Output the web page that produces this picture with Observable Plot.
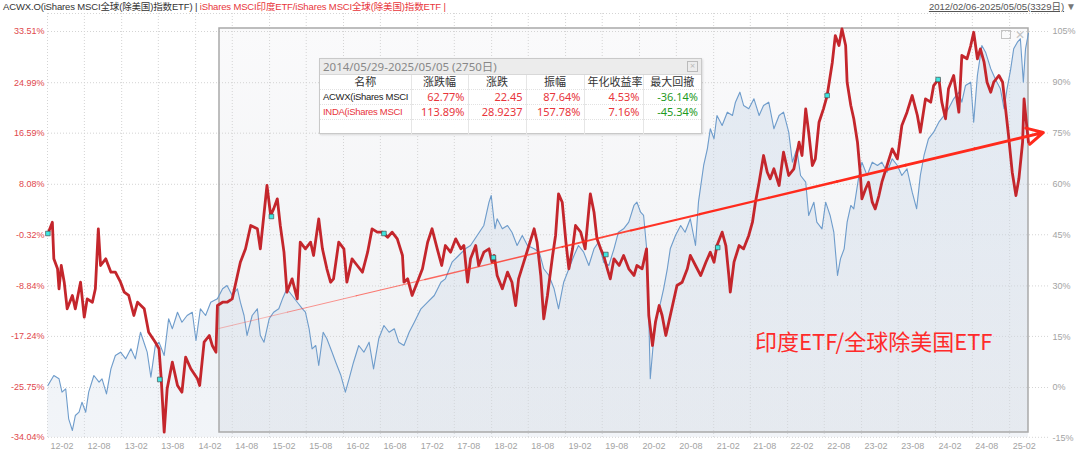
<!DOCTYPE html>
<html><head><meta charset="utf-8">
<script src="https://cdn.jsdelivr.net/npm/d3@7"></script>
<script src="https://cdn.jsdelivr.net/npm/@observablehq/plot@0.6"></script>
<style>
body{margin:0;background:#fff;font-family:"Liberation Sans","Noto Sans CJK SC",sans-serif;}
#wrap{position:relative;width:1080px;height:458px;overflow:hidden;background:#fff;}
#chart{position:absolute;left:0;top:0;}
#title{position:absolute;left:3px;top:0px;font-size:9.5px;letter-spacing:-0.15px;line-height:14px;color:#333;white-space:nowrap;}
#title .red{color:#e8353b;}
#range{position:absolute;right:4px;top:0px;font-size:9.5px;line-height:14px;color:#555;white-space:nowrap;}
#range u{text-decoration:underline;}
#range .tri{color:#777;font-size:10px;margin-left:2px;}
#tbl{position:absolute;left:319px;top:58px;width:383px;height:76px;background:rgba(255,255,255,0.96);border:1px solid #c9c9c9;box-shadow:1px 1px 2px rgba(0,0,0,0.12);font-size:11px;color:#333;box-sizing:border-box;font-family:"Noto Sans","Noto Sans CJK SC",sans-serif;}
#tbl .th{height:15px;line-height:15px;background:#ececec;border-bottom:1px solid #d8d8d8;color:#888;padding-left:3px;position:relative;font-size:11.5px;}
#tbl .th .x{position:absolute;right:3px;top:2px;width:9px;height:9px;border:1px solid #bbb;color:#bbb;font-size:9px;line-height:8px;text-align:center;}
#tbl table{border-collapse:collapse;table-layout:fixed;width:381px;}
#tbl td{height:14px;line-height:14px;padding:0 3px;border-right:1px solid #e6e6e6;border-bottom:1px dotted #e2e2e2;white-space:nowrap;overflow:hidden;text-align:right;}
#tbl td:last-child{border-right:none;}
#tbl tr.hd td{text-align:center;color:#333;}
#tbl td.name{text-align:left;padding:0 0 0 3px;font-family:"Liberation Sans",sans-serif;font-size:9.5px;letter-spacing:-0.3px;}
#icons{position:absolute;left:1001px;top:30px;color:#c4c4c4;font-size:12px;line-height:10px;}
#icons .sq{display:inline-block;width:8px;height:7px;border:1px solid #c4c4c4;margin-right:4px;}
</style>
</head><body>
<div id="wrap">
  <div id="chart"></div>
  <div id="title"></div>
  <div id="range"></div>
  <div id="tbl"></div>
  <div id="icons"><span class="sq"></span>✕</div>
</div>
<script>
// ---------------- data ----------------
const titleBlack = "ACWX.O(iShares MSCI全球(除美国)指数ETF) | ";
const titleRed = "iShares MSCI印度ETF/iShares MSCI全球(除美国)指数ETF |";
const rangeText = "2012/02/06-2025/05/05(3329日)";

// time given as decimal years
const fullStart = 2012.098, fullEnd = 2025.340;
const selStart = 2014.408, selEnd = 2025.340;   // 2014/05/29 - 2025/05/05

// left axis: INDA/ACWX ratio change (%)
const leftTicks = [33.51, 24.99, 16.59, 8.08, -0.32, -8.84, -17.24, -25.75, -34.04];
// right axis: ACWX change (%)
const rightTicks = [105, 90, 75, 60, 45, 30, 15, 0, -15];
const xTickLabels = ["12-02","12-08","13-02","13-08","14-02","14-08","15-02","15-08","16-02","16-08","17-02","17-08","18-02","18-08","19-02","19-08","20-02","20-08","21-02","21-08","22-02","22-08","23-02","23-08","24-02","24-08","25-02"];

// INDA / ACWX ratio (left axis, %)
const ratioSeries = [
[2012.09,-0.16],[2012.15,1.77],[2012.17,-4.33],[2012.22,-5.99],[2012.24,-9.32],[2012.27,-5.44],[2012.31,-8.22],[2012.35,-12.65],[2012.42,-10.43],[2012.46,-12.65],[2012.53,-8.22],[2012.58,-14.04],[2012.62,-10.99],[2012.69,-11.55],[2012.73,-9.32],[2012.77,0.67],[2012.80,-5.44],[2012.87,-4.33],[2012.94,-6.55],[2013.00,-6.55],[2013.07,-8.22],[2013.12,-9.88],[2013.18,-10.43],[2013.25,-13.76],[2013.30,-11.55],[2013.39,-12.65],[2013.45,-16.54],[2013.54,-18.21],[2013.59,-19.30],[2013.62,-24.30],[2013.66,-33.18],[2013.70,-25.96],[2013.77,-21.53],[2013.84,-25.41],[2013.90,-26.53],[2013.95,-20.70],[2014.02,-22.63],[2014.11,-24.30],[2014.14,-25.41],[2014.20,-18.21],[2014.27,-17.09],[2014.31,-18.75],[2014.36,-19.87],[2014.38,-12.10],[2014.45,-11.55],[2014.51,-11.55],[2014.58,-10.99],[2014.65,-7.10],[2014.69,-4.89],[2014.76,-2.66],[2014.83,1.22],[2014.92,0.67],[2014.96,-2.66],[2015.05,7.88],[2015.10,2.88],[2015.14,3.99],[2015.19,5.66],[2015.23,1.22],[2015.28,-3.22],[2015.32,-9.88],[2015.39,-7.66],[2015.46,-10.99],[2015.50,-1.56],[2015.57,-2.66],[2015.64,-1.56],[2015.68,-3.77],[2015.75,2.33],[2015.80,-2.66],[2015.86,-5.99],[2015.91,-8.22],[2015.95,-7.66],[2016.02,-1.56],[2016.09,-2.66],[2016.13,-8.22],[2016.20,-4.33],[2016.27,-5.44],[2016.34,-6.55],[2016.41,-3.22],[2016.47,0.67],[2016.54,0.11],
[2016.61,0.11],[2016.68,-0.73],[2016.74,0.11],[2016.81,-1.00],[2016.88,-3.77],[2016.90,-8.22],[2016.95,-7.66],[2017.01,-10.43],[2017.08,-8.22],[2017.15,-5.99],[2017.22,-1.56],[2017.28,0.67],[2017.35,-2.66],[2017.41,-5.44],[2017.46,-2.11],[2017.53,-3.22],[2017.60,-1.00],[2017.67,-2.66],[2017.71,-2.11],[2017.76,-8.22],[2017.80,-4.33],[2017.87,-2.11],[2017.91,-5.44],[2017.98,-3.22],[2018.05,-2.66],[2018.09,-4.89],[2018.12,-3.77],[2018.16,-7.10],[2018.23,-9.32],[2018.30,-6.55],[2018.36,-8.22],[2018.41,-12.10],[2018.45,-7.66],[2018.52,-4.89],[2018.59,-2.11],[2018.66,0.67],[2018.70,-1.56],[2018.75,-7.10],[2018.79,-14.32],[2018.84,-10.43],[2018.91,-3.77],[2018.95,-0.44],[2018.99,6.50],[2019.04,5.10],[2019.09,-1.56],[2019.13,-5.99],[2019.18,-2.66],[2019.22,1.22],[2019.29,0.11],[2019.35,-2.66],[2019.42,6.50],[2019.47,3.43],[2019.51,-1.00],[2019.56,-2.66],[2019.60,-3.77],[2019.65,-5.99],[2019.69,-7.66],[2019.74,-4.33],[2019.81,-5.44],[2019.87,-3.77],[2019.94,-5.99],[2020.01,-7.10],[2020.05,-5.44],[2020.12,-5.99],[2020.18,-2.66],[2020.21,-13.76],[2020.26,-18.75],[2020.30,-14.87],[2020.35,-12.10],[2020.39,-13.76],[2020.44,-17.09],[2020.48,-14.87],[2020.53,-12.10],[2020.59,-8.77],[2020.66,-8.22],[2020.73,-5.99],[2020.77,-3.77],[2020.84,-5.44],[2020.91,-7.10],[2020.98,-4.89],
[2021.04,-3.22],[2021.09,-4.89],[2021.13,-2.11],[2021.20,0.11],[2021.25,-2.11],[2021.29,-7.10],[2021.31,-9.88],[2021.36,-4.89],[2021.43,-2.11],[2021.49,-2.66],[2021.56,-0.44],[2021.61,1.77],[2021.65,5.10],[2021.70,8.43],[2021.76,12.87],[2021.81,10.09],[2021.85,8.99],[2021.90,10.66],[2021.97,7.88],[2022.03,13.42],[2022.10,9.54],[2022.17,10.66],[2022.24,15.08],[2022.28,12.87],[2022.33,20.64],[2022.37,16.75],[2022.42,11.21],[2022.46,12.32],[2022.51,18.41],[2022.57,20.64],[2022.62,22.86],[2022.69,28.40],[2022.73,32.84],[2022.78,31.18],[2022.82,33.96],[2022.87,31.18],[2022.89,25.07],[2022.94,21.19],[2022.98,18.98],[2023.03,15.08],[2023.07,9.54],[2023.09,5.66],[2023.14,7.33],[2023.18,8.43],[2023.23,5.10],[2023.27,3.99],[2023.32,6.21],[2023.36,8.43],[2023.43,11.21],[2023.50,13.98],[2023.57,12.32],[2023.63,17.86],[2023.70,20.08],[2023.77,22.86],[2023.84,19.53],[2023.88,16.75],[2023.95,22.31],[2024.02,21.75],[2024.06,24.52],[2024.13,25.64],[2024.17,21.75],[2024.22,18.98],[2024.26,23.97],[2024.33,26.19],[2024.40,20.08],[2024.44,29.52],[2024.51,28.97],[2024.56,31.18],[2024.60,33.39],[2024.65,28.97],[2024.69,30.63],[2024.74,28.40],[2024.78,25.07],[2024.83,23.41],[2024.87,25.07],[2024.94,26.19],[2024.99,25.07],[2025.03,20.64],[2025.07,16.20],[2025.12,10.09],[2025.17,6.21],[2025.21,8.99],[2025.26,15.08],[2025.28,22.31],[2025.32,17.31],[2025.34,15.08]
];

// ACWX (right axis, %)
const acwxSeries = [
[2012.09,0.59],[2012.17,3.54],[2012.24,2.57],[2012.28,-1.38],[2012.33,-0.39],[2012.37,-9.23],[2012.42,-12.68],[2012.46,-8.26],[2012.51,-7.28],[2012.55,-4.33],[2012.60,-7.28],[2012.64,-1.38],[2012.71,3.54],[2012.78,1.57],[2012.82,2.57],[2012.88,-1.87],[2012.94,5.51],[2013.00,9.44],[2013.07,10.42],[2013.14,8.45],[2013.21,11.41],[2013.27,8.45],[2013.34,16.31],[2013.40,12.39],[2013.43,10.42],[2013.48,3.05],[2013.54,12.39],[2013.59,13.37],[2013.66,9.44],[2013.72,20.27],[2013.77,17.32],[2013.84,22.21],[2013.90,19.26],[2013.97,21.24],[2014.04,22.21],[2014.09,13.86],[2014.15,23.22],[2014.22,21.24],[2014.29,25.16],[2014.38,26.16],[2014.45,29.12],[2014.51,30.09],[2014.58,27.14],[2014.65,29.12],[2014.69,25.16],[2014.74,21.24],[2014.78,15.34],[2014.85,21.24],[2014.92,23.22],[2014.96,15.34],[2015.01,13.37],[2015.08,20.27],[2015.14,22.21],[2015.21,23.22],[2015.26,26.16],[2015.32,29.12],[2015.39,27.14],[2015.46,25.16],[2015.53,23.22],[2015.57,22.21],[2015.62,17.32],[2015.66,11.41],[2015.71,12.39],[2015.75,6.49],[2015.81,16.31],[2015.86,14.37],[2015.93,10.42],[2015.98,7.46],[2016.05,3.54],[2016.11,-1.38],[2016.16,2.57],[2016.22,7.46],[2016.29,12.39],[2016.36,10.42],[2016.43,13.37],[2016.49,5.51],[2016.56,14.37],
[2016.63,18.29],[2016.70,16.31],[2016.77,17.32],[2016.83,13.37],[2016.90,12.39],[2016.97,16.31],[2017.04,19.26],[2017.13,23.22],[2017.22,25.16],[2017.31,27.14],[2017.40,31.06],[2017.46,32.06],[2017.55,36.96],[2017.64,38.94],[2017.73,40.91],[2017.80,41.89],[2017.89,44.84],[2017.98,47.79],[2018.05,54.66],[2018.08,56.64],[2018.13,46.81],[2018.16,49.76],[2018.23,46.81],[2018.30,47.79],[2018.36,45.81],[2018.43,41.89],[2018.50,44.84],[2018.57,41.89],[2018.66,40.91],[2018.73,39.91],[2018.79,35.02],[2018.86,33.04],[2018.93,29.12],[2018.99,23.22],[2019.06,31.06],[2019.13,35.02],[2019.20,38.94],[2019.26,41.89],[2019.33,39.91],[2019.40,35.99],[2019.47,40.91],[2019.53,42.86],[2019.60,36.96],[2019.67,35.99],[2019.74,40.91],[2019.80,45.81],[2019.87,46.81],[2019.94,48.76],[2020.01,53.69],[2020.05,54.66],[2020.10,51.71],[2020.14,50.74],[2020.19,38.94],[2020.23,2.57],[2020.28,15.34],[2020.32,21.24],[2020.37,25.16],[2020.41,29.12],[2020.46,35.02],[2020.50,40.91],[2020.57,44.84],[2020.64,47.79],[2020.70,45.81],[2020.77,49.76],[2020.84,41.89],[2020.88,54.66],[2020.95,65.49],[2021.00,70.41],[2021.04,76.31],
[2021.09,73.36],[2021.13,80.24],[2021.20,77.29],[2021.27,81.21],[2021.34,80.24],[2021.38,84.16],[2021.44,87.11],[2021.49,83.19],[2021.56,82.21],[2021.63,85.16],[2021.70,80.24],[2021.76,83.19],[2021.83,84.16],[2021.90,76.31],[2021.97,80.24],[2022.03,81.21],[2022.10,75.31],[2022.15,66.46],[2022.21,70.41],[2022.26,62.54],[2022.33,60.56],[2022.37,50.74],[2022.44,54.66],[2022.48,48.76],[2022.55,46.81],[2022.60,54.66],[2022.66,50.74],[2022.71,45.81],[2022.76,33.04],[2022.80,37.96],[2022.85,40.91],[2022.89,48.76],[2022.94,53.69],[2022.98,52.71],[2023.05,62.54],[2023.09,66.46],[2023.16,62.54],[2023.23,66.46],[2023.30,65.49],[2023.36,66.46],[2023.43,63.51],[2023.50,67.46],[2023.57,65.49],[2023.63,62.54],[2023.70,64.51],[2023.77,57.61],[2023.83,52.71],[2023.88,62.54],[2023.93,68.44],[2023.99,73.36],[2024.06,75.31],[2024.13,78.26],[2024.20,80.24],[2024.26,82.21],[2024.33,85.16],[2024.40,87.11],[2024.44,84.16],[2024.49,89.09],[2024.56,90.06],[2024.60,78.26],[2024.65,92.04],[2024.71,100.88],[2024.76,98.91],[2024.83,94.01],[2024.89,91.06],[2024.96,88.11],[2025.01,82.21],[2025.05,88.11],[2025.10,94.01],[2025.14,99.91],[2025.19,101.86],[2025.23,102.86],[2025.27,90.06],[2025.30,99.91],[2025.34,104.5]
];

// small markers on the ratio line
const markerSeries = [[2012.09,-0.11],[2013.60,-24.41],[2015.11,2.72],[2016.63,-0.11],[2018.11,-4.11],[2019.63,-3.61],[2021.14,-2.44],[2022.62,22.86],[2024.12,25.52]];

// trend arrow (left-axis units)
const arrowFrom = [2014.40, -15.92];
const arrowTo = [2025.54, 16.70];
const noteText = "印度ETF/全球除美国ETF";
const notePos = [2023.25, -18.25];

// statistics table
const statRange = "2014/05/29-2025/05/05 (2750日)";
const statHeaders = ["名称","涨跌幅","涨跌","振幅","年化收益率","最大回撤"];
const statNames = ["ACWX(iShares MSCI", "INDA(iShares MSCI"];
const acwxStats = ["62.77%","22.45","87.64%","4.53%","-36.14%"];
const indaStats = ["113.89%","28.9237","157.78%","7.16%","-45.34%"];

// ---------------- helpers ----------------
const yr = t => { const y = Math.floor(t); const s = Date.UTC(y,0,1), e = Date.UTC(y+1,0,1); return new Date(s + (t - y) * (e - s)); };
// right axis -> left axis units (105% ↔ 33.51%, 0% ↔ -25.75%)
const rk = (33.51 - (-25.75)) / 105;
const r2l = r => -25.75 + r * rk;
const l2r = l => (l + 25.75) / rk;
const yDomain = [-34.07, 36.51];

const ratio = ratioSeries.map(([t, v]) => ({date: yr(t), v}));
const acwx = acwxSeries.map(([t, r]) => ({date: yr(t), v: r2l(r)}));
const markers = markerSeries.map(([t, v]) => ({date: yr(t), v}));
const xTicks = xTickLabels.map(s => new Date(Date.UTC(2000 + +s.slice(0,2), +s.slice(3) - 1, 1)));

// tapered arrow pieces
const N = 12;
const pieces = d3.range(N).map(i => {
  const a = i / N, b = (i + 1) / N;
  const ia = d3.interpolateNumber(arrowFrom[0], arrowTo[0]);
  const ib = d3.interpolateNumber(arrowFrom[1], arrowTo[1]);
  return {x1: yr(ia(a)), y1: ib(a), x2: yr(ia(b)), y2: ib(b), w: 0.5 + 2.6 * b, o: 0.35 + 0.65 * Math.min(1, b * 1.6)};
});
const shaft = pieces.slice(0, N - 1);
const head = pieces.slice(N - 1);

const FONT = '"Liberation Sans","Noto Sans CJK SC",sans-serif';

const svg = Plot.plot({
  width: 1080, height: 458,
  marginTop: 13, marginBottom: 21, marginLeft: 48, marginRight: 52,
  style: {fontFamily: FONT, fontSize: "9px", background: "transparent", overflow: "visible"},
  x: {type: "utc", domain: [yr(fullStart), yr(fullEnd)]},
  y: {domain: yDomain},
  marks: [
    Plot.rect([{a: yr(selStart), b: yr(selEnd)}], {x1: "a", x2: "b", insetTop: 15, insetBottom: 5, fill: "url(#boxFill)"}),
    Plot.ruleX(xTicks, {stroke: "#d4d4d4", strokeDasharray: "1,2"}),
    Plot.ruleY(leftTicks, {stroke: "#d4d4d4", strokeDasharray: "1,2", insetRight: -22}),
    Plot.ruleY([yDomain[1]], {stroke: "#d4d4d4", strokeDasharray: "1,2", insetRight: -22}),
    Plot.areaY(acwx, {x: "date", y1: yDomain[0], y2: "v", fill: "url(#blueFill)", curve: "linear"}),
    Plot.rect([{a: yr(selStart), b: yr(selEnd)}], {x1: "a", x2: "b", insetTop: 15, insetBottom: 5, fill: "none", stroke: "#a9a9a9", strokeWidth: 1.5}),
    Plot.lineY(acwx, {x: "date", y: "v", stroke: "#6e9ccb", strokeWidth: 1.1}),
    Plot.lineY(ratio, {x: "date", y: "v", stroke: "#c4262c", strokeWidth: 2.8, strokeLinejoin: "round"}),
    Plot.link(shaft, {x1: "x1", y1: "y1", x2: "x2", y2: "y2", stroke: "#ff2a1c", strokeWidth: "w", strokeOpacity: "o", strokeLinecap: "round"}),
    Plot.arrow(head, {x1: "x1", y1: "y1", x2: "x2", y2: "y2", stroke: "#ff2a1c", strokeWidth: 3, headLength: 9, headAngle: 55}),
    Plot.dot(markers, {x: "date", y: "v", symbol: "square", r: 2.6, fill: "#3ee6e0", stroke: "#3a3a3a", strokeWidth: 0.6}),
    Plot.text([noteText], {x: () => yr(notePos[0]), y: () => notePos[1], text: d => d, fill: "#ff2a2a", fontSize: 22, fontFamily: '"Noto Sans CJK SC",sans-serif'}),
    Plot.axisY(leftTicks, {anchor: "left", tickSize: 0, tickPadding: 4, tickFormat: d => d.toFixed(2) + "%", color: "#e0474c", fontSize: 9}),
    Plot.axisY(rightTicks.map(r2l), {anchor: "right", tickSize: 0, tickPadding: 24, tickFormat: d => Math.round(l2r(d)) + "%", color: "#a3a3a3", fontSize: 9, textAnchor: "start"}),
    Plot.axisX(xTicks, {anchor: "bottom", tickSize: 0, tickPadding: 5, tickFormat: d3.utcFormat("%y-%m"), color: "#a3a3a3", fontSize: 9, textAnchor: "start", dx: 3})
  ]
});

const ns = "http://www.w3.org/2000/svg";
const defs = document.createElementNS(ns, "defs");
defs.innerHTML = '<linearGradient id="boxFill" x1="0" y1="0" x2="0" y2="1"><stop offset="0" stop-color="#fafafb"/><stop offset="1" stop-color="#eef0f3"/></linearGradient>' +
  '<linearGradient id="blueFill" x1="0" y1="0" x2="0" y2="1"><stop offset="0" stop-color="#b9cde4" stop-opacity="0.35"/><stop offset="1" stop-color="#d3dce8" stop-opacity="0.3"/></linearGradient>';
svg.insertBefore(defs, svg.firstChild);
document.getElementById("chart").appendChild(svg);

// title lines
document.getElementById("title").innerHTML = titleBlack + '<span class="red">' + titleRed + '</span>';
document.getElementById("range").innerHTML = '<u>' + rangeText + '</u><span class="tri">▼</span>';

// table
const colW = [91, 57, 58, 58, 59, 58];
let html = '<div class="th">' + statRange + '<span class="x">×</span></div><table><colgroup>' + colW.map(w => '<col style="width:' + w + 'px">').join("") + '</colgroup>';
html += '<tr class="hd">' + statHeaders.map(h => '<td>' + h + '</td>').join("") + '</tr>';
[[statNames[0], acwxStats, "#222"], [statNames[1], indaStats, "#e8353b"]].forEach(([name, vals, c]) => {
  html += '<tr><td class="name" style="color:' + c + '">' + name + '</td>' +
    vals.map((v, i) => '<td style="color:' + (i === 4 ? "#1f9a1f" : "#e8353b") + '">' + v + '</td>').join("") + '</tr>';
});
html += '<tr>' + statHeaders.map(() => '<td></td>').join("") + '</tr></table>';
document.getElementById("tbl").innerHTML = html;
</script>
</body></html>
